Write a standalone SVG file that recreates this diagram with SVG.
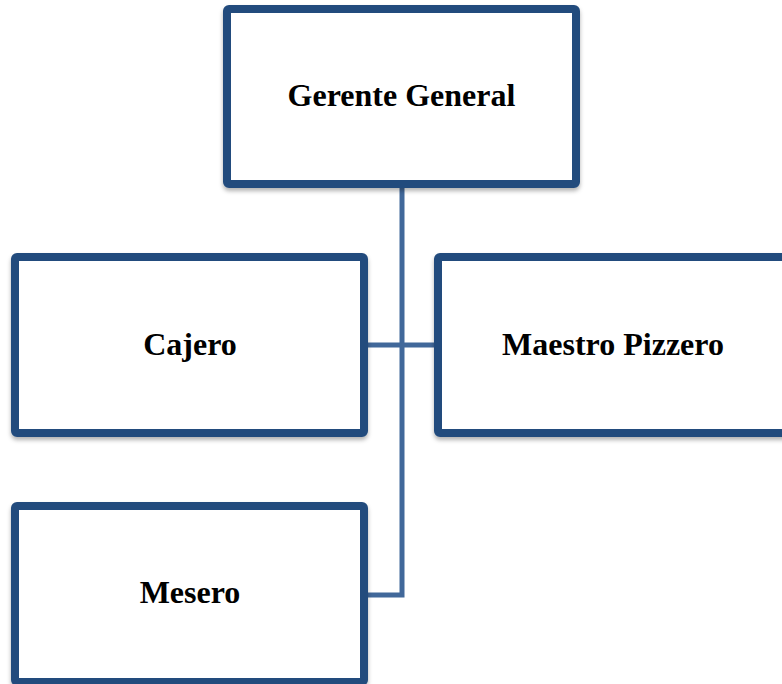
<svg xmlns="http://www.w3.org/2000/svg" width="782" height="684" viewBox="0 0 782 684">
<defs>
<filter id="sh" x="-10%" y="-10%" width="120%" height="130%">
<feDropShadow dx="0" dy="3" stdDeviation="2" flood-color="#000" flood-opacity="0.3"/>
</filter>
<style>
.box{fill:#fff;stroke:#224b7d;stroke-width:8;filter:url(#sh)}
.lbl{font-family:"Liberation Serif","Times New Roman",serif;font-weight:bold;font-size:32px;fill:#000;text-anchor:middle}
.con{fill:none;stroke:#41689a;stroke-width:5}
</style>
</defs>
<rect width="782" height="684" fill="#fff"/>
<g id="connectors">
<path class="con" d="M402 186 V595 H366"/>
<path class="con" d="M366 345 H436"/>
</g>
<g id="gerente">
<rect class="box" x="227" y="9" width="349" height="175" rx="2"/>
<text class="lbl" x="401.5" y="106">Gerente General</text>
</g>
<g id="cajero">
<rect class="box" x="15" y="257" width="349" height="176" rx="2"/>
<text class="lbl" x="190" y="355">Cajero</text>
</g>
<g id="maestro">
<rect class="box" x="438" y="257" width="349" height="176" rx="2"/>
<text class="lbl" x="613" y="355">Maestro Pizzero</text>
</g>
<g id="mesero">
<rect class="box" x="15" y="506" width="349" height="176" rx="2"/>
<text class="lbl" x="190" y="603">Mesero</text>
</g>
</svg>
